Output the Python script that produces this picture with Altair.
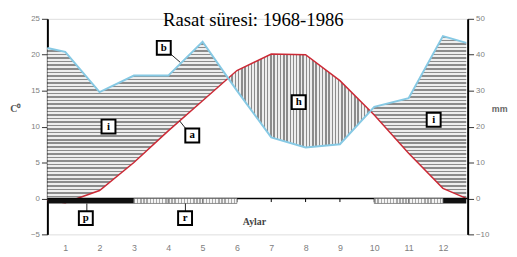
import altair as alt
import pandas as pd
import numpy as np

# ---- data ----
months = list(range(1, 13))
x_edge_left, x_edge_right = 0.48, 12.68
line_x = [x_edge_left] + months + [x_edge_right]
temp_c = [-0.3, -0.6, 1.1, 5.0, 9.4, 13.6, 17.8, 20.1, 20.0, 16.4, 11.6, 6.3, 1.4, 0.0]
precip_mm = [41.9, 40.8, 29.6, 34.2, 34.2, 43.6, 30.0, 17.0, 14.2, 15.1, 25.5, 27.9, 45.2, 43.3]

frost_start = [0.48, 3, 4, 5, 10, 11, 12]
frost_end = [3, 4, 5, 6, 11, 12, 12.68]
frost_kind = ["certain", "probable", "probable", "probable", "probable", "probable", "certain"]

box_text = ["b", "i", "a", "h", "i", "p", "r"]
box_m = [3.87, 2.26, 4.70, 7.80, 11.73, 1.60, 4.49]
box_t = [20.96, 10.0, 8.77, 13.4, 10.96, -2.74, -2.74]

lead_m1 = [4.07, 4.33, 1.63, 4.50]
lead_t1 = [20.1, 10.8, -0.7, -0.7]
lead_m2 = [4.36, 4.53, 1.63, 4.50]
lead_t2 = [18.9, 9.6, -1.8, -1.8]

title_text = "Rasat süresi: 1968-1986"
x_title = "Aylar"

# ---- derived tables ----
pt = [p / 2 for p in precip_mm]
rows = []
for i in range(len(line_x)):
    rows.append((line_x[i], temp_c[i], pt[i]))
    if i < len(line_x) - 1:
        d0 = pt[i] - temp_c[i]
        d1 = pt[i + 1] - temp_c[i + 1]
        if d0 * d1 < 0:
            f = d0 / (d0 - d1)
            xc = line_x[i] + f * (line_x[i + 1] - line_x[i])
            yc = temp_c[i] + f * (temp_c[i + 1] - temp_c[i])
            rows.append((xc, yc, yc))
area = pd.DataFrame(rows, columns=["m", "t", "p"])
area["hum_top"] = np.maximum(area["p"], area["t"])
area["hum_bot"] = area["t"]
arid = area[area["p"] <= area["t"] + 1e-9].copy()
arid["arid_bot"] = arid["p"]

lines = pd.DataFrame({"m": line_x, "t": temp_c, "mm": precip_mm})
frost = pd.DataFrame({"s": frost_start, "e": frost_end, "k": frost_kind, "y1": 0.0, "y2": -0.7})
boxes = pd.DataFrame({"m": box_m, "t": box_t, "txt": box_text})
leads = pd.DataFrame({"m1": lead_m1, "t1": lead_t1, "m2": lead_m2, "t2": lead_t2})
ticks = pd.DataFrame({"m": months, "t1": 0.0, "t2": -0.5})
zero = pd.DataFrame({"a": [0.48], "b": [12.72], "t": [0.0]})
texts = pd.DataFrame({"m": [6.48], "t": [23.97], "txt": [title_text]})
xlab = pd.DataFrame({"m": [6.51], "t": [-3.3], "txt": [x_title]})


def stripes(n, c1, c2, frac, horizontal):
    stops = []
    for i in range(n):
        a = i / n
        b = (i + frac) / n
        c = (i + 1) / n
        stops += [alt.GradientStop(offset=a, color=c1), alt.GradientStop(offset=b, color=c1),
                  alt.GradientStop(offset=b, color=c2), alt.GradientStop(offset=c, color=c2)]
    if horizontal:
        return alt.Gradient(gradient="linear", stops=stops, x1=0, x2=0, y1=0, y2=1)
    return alt.Gradient(gradient="linear", stops=stops, x1=0, x2=1, y1=0, y2=0)


LBL = "#808080"
xscale = alt.Scale(domain=[0.48, 12.72], nice=False, zero=False)
xaxis = alt.Axis(values=months, title=None, domain=False, ticks=False, tickSize=0, grid=False,
                 labelPadding=9, labelColor=LBL, labelFont="Liberation Sans", labelFontSize=9)
yscale = alt.Scale(domain=[-5, 25], nice=False, zero=False)
yaxis = alt.Axis(values=[-5, 0, 5, 10, 15, 20, 25], title="C⁰", grid=False, domainColor="black",
                 domainWidth=2, tickColor="#333", tickSize=6, labelPadding=2, labelColor=LBL,
                 labelFont="Liberation Sans", labelFontSize=8, titleAngle=0, titleX=-33, titleY=91,
                 titleAlign="center", titleBaseline="middle", titleFont="Liberation Serif",
                 titleFontSize=10, titleFontWeight="bold", titleColor="#555")


def X(f):
    return alt.X(f, type="quantitative", scale=xscale, axis=xaxis)


def Y(f):
    return alt.Y(f, type="quantitative", scale=yscale, axis=yaxis)


hum = alt.Chart(area).mark_area(color=stripes(47, "#8c8c8c", "#eeeeee", 0.45, True), interpolate="linear").encode(
    x=X("m"), y=Y("hum_top"), y2="hum_bot")
ari = alt.Chart(arid).mark_area(color=stripes(44, "#8c8c8c", "#eeeeee", 0.45, False), interpolate="linear").encode(
    x=X("m"), y=Y("t"), y2="arid_bot")
red = alt.Chart(lines).mark_line(color="#cc2a36", strokeWidth=1.5).encode(x=X("m"), y=Y("t"))
zl = alt.Chart(zero).mark_rule(color="black", strokeWidth=1.5).encode(x=X("a"), x2="b", y=Y("t"))
tk = alt.Chart(ticks).mark_rule(color="black", strokeWidth=1).encode(x=X("m"), y=Y("t1"), y2="t2")
fr_c = alt.Chart(frost[frost.k == "certain"]).mark_rect(color="#111111").encode(
    x=X("s"), x2="e", y=Y("y1"), y2="y2")
fr_p = alt.Chart(frost[frost.k == "probable"]).mark_rect(
    color=stripes(11, "#a8a8a8", "#f4f4f4", 0.45, False), stroke="#777", strokeWidth=0.8).encode(
    x=X("s"), x2="e", y=Y("y1"), y2="y2")
ld = alt.Chart(leads).mark_rule(color="#222", strokeWidth=1).encode(x=X("m1"), x2="m2", y=Y("t1"), y2="t2")
bx = alt.Chart(boxes).mark_point(shape="square", size=200, filled=True, fill="white", stroke="black",
                                 strokeWidth=2, opacity=1).encode(x=X("m"), y=Y("t"))
bt = alt.Chart(boxes).mark_text(font="Liberation Serif", fontWeight="bold", fontSize=11, color="black",
                                baseline="middle", dy=0).encode(x=X("m"), y=Y("t"), text="txt")
tt = alt.Chart(texts).mark_text(font="Liberation Serif", fontSize=19, color="black",
                                baseline="alphabetic", align="center").encode(x=X("m"), y=Y("t"), text="txt")
xl = alt.Chart(xlab).mark_text(font="Liberation Serif", fontSize=10, fontWeight="bold", color="#444",
                               baseline="middle", align="center").encode(x=X("m"), y=Y("t"), text="txt")

left = alt.layer(hum, ari, red, zl, tk, fr_c, fr_p, ld, bx, bt, tt, xl)

blue = alt.Chart(lines).mark_line(color="#86c9e4", strokeWidth=2).encode(
    x=X("m"),
    y=alt.Y("mm:Q", scale=alt.Scale(domain=[-10, 50], nice=False, zero=False),
            axis=alt.Axis(orient="right", values=[-10, 0, 10, 20, 30, 40, 50], title="mm", grid=False,
                          domainColor="black", domainWidth=2, tickColor="#333", tickSize=6,
                          labelPadding=2, labelColor=LBL, labelFont="Liberation Sans", labelFontSize=8,
                          titleAngle=0, titleX=24, titleY=91, titleAlign="left", titleBaseline="middle",
                          titleFont="Liberation Sans", titleFontSize=9, titleColor="#666")))

chart = alt.layer(left, blue).resolve_scale(y="independent").properties(
    width=427, height=219,
    autosize=alt.AutoSizeParams(type="none"),
    padding={"left": 40, "top": 9, "right": 42, "bottom": 21},
).configure_view(stroke=None).configure(background="white")

chart.save("out.html", embed_options={"renderer": "svg", "actions": False})
